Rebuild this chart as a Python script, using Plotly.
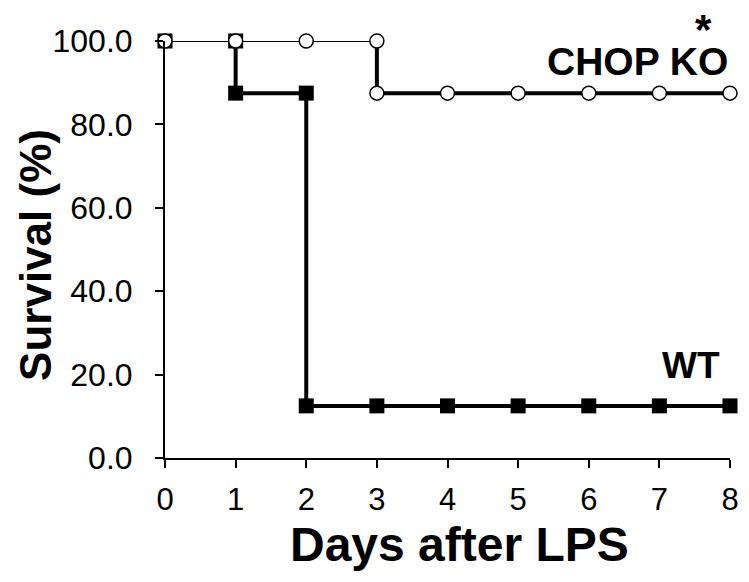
import plotly.graph_objects as go

days = [0, 1, 2, 3, 4, 5, 6, 7, 8]
wt_survival = [100, 87.5, 12.5, 12.5, 12.5, 12.5, 12.5, 12.5, 12.5]
ko_survival = [100, 100, 100, 87.5, 87.5, 87.5, 87.5, 87.5, 87.5]
y_ticks = [0, 20, 40, 60, 80, 100]
series_labels = ["WT", "CHOP KO"]


def step_points(x, y):
    xs, ys = [x[0]], [y[0]]
    for i in range(1, len(x)):
        xs.append(x[i]); ys.append(y[i - 1])
        if y[i] != y[i - 1]:
            xs.append(x[i]); ys.append(y[i])
    return xs, ys


def split_segments(xs, ys):
    thin_x, thin_y, thick_x, thick_y = [], [], [], []
    for i in range(len(xs) - 1):
        seg_x = [xs[i], xs[i + 1], None]
        seg_y = [ys[i], ys[i + 1], None]
        if ys[i] == 100 and ys[i + 1] == 100:
            thin_x += seg_x; thin_y += seg_y
        else:
            thick_x += seg_x; thick_y += seg_y
    return thin_x, thin_y, thick_x, thick_y


fig = go.Figure()
wx, wy = step_points(days, wt_survival)
kx, ky = step_points(days, ko_survival)

for xs, ys in [(wx, wy), (kx, ky)]:
    tx, ty, bx, by = split_segments(xs, ys)
    fig.add_trace(go.Scatter(x=tx, y=ty, mode="lines", line=dict(color="black", width=2),
                             cliponaxis=False, showlegend=False, hoverinfo="skip"))
    fig.add_trace(go.Scatter(x=bx, y=by, mode="lines", line=dict(color="black", width=4),
                             cliponaxis=False, showlegend=False, hoverinfo="skip"))

fig.add_trace(go.Scatter(x=wx, y=wy, mode="markers", name=series_labels[0],
                         marker=dict(symbol="square", size=15, color="black",
                                     line=dict(color="black", width=0)),
                         cliponaxis=False, showlegend=False))
fig.add_trace(go.Scatter(x=kx, y=ky, mode="markers", name=series_labels[1],
                         marker=dict(symbol="circle", size=14, color="white",
                                     line=dict(color="black", width=1.5)),
                         cliponaxis=False, showlegend=False))

font = "Liberation Sans, Arial, sans-serif"
fig.add_annotation(x=8, y=87.5, xref="x", yref="y", text="<b>CHOP KO</b>", showarrow=False,
                   xanchor="right", yanchor="middle", xshift=0, yshift=32,
                   font=dict(family=font, size=39, color="black"))
fig.add_annotation(x=8, y=12.5, xref="x", yref="y", text="<b>WT</b>", showarrow=False,
                   xanchor="right", yanchor="middle", xshift=-8, yshift=40,
                   font=dict(family=font, size=37, color="black"))
fig.add_annotation(x=7.62, y=100, xref="x", yref="y", text="<b>*</b>", showarrow=False,
                   xanchor="center", yanchor="middle", yshift=12,
                   font=dict(family=font, size=42, color="black"))
fig.add_annotation(x=0.521, y=0, xref="paper", yref="paper", text="<b>Days after LPS</b>",
                   showarrow=False, xanchor="center", yanchor="middle", yshift=-86,
                   font=dict(family=font, size=48, color="black"))
fig.add_annotation(x=0, y=0.487, xref="paper", yref="paper", text="<b>Survival (%)</b>",
                   showarrow=False, xanchor="center", yanchor="middle", xshift=-129,
                   textangle=-90, font=dict(family=font, size=44, color="black"))

# page body adds an 8px offset; figure size/margins compensate for it
fig.update_layout(
    width=741, height=574,
    margin=dict(l=157, r=19, t=33, b=124),
    paper_bgcolor="white", plot_bgcolor="white",
    font=dict(family=font, color="black"),
)
fig.update_xaxes(range=[0, 8], tickvals=days, ticktext=[str(d) for d in days],
                 automargin=False,
                 showgrid=False, zeroline=False, showline=True, linecolor="black", linewidth=2,
                 ticks="outside", ticklen=8, tickwidth=2, tickcolor="black",
                 ticklabelstandoff=5,
                 tickfont=dict(family=font, size=31))
fig.update_yaxes(range=[0, 100], tickvals=y_ticks, tickformat=".1f",
                 automargin=False,
                 showgrid=False, zeroline=False, showline=True, linecolor="black", linewidth=2,
                 ticks="outside", ticklen=8, tickwidth=2, tickcolor="black",
                 ticklabelstandoff=16,
                 tickfont=dict(family=font, size=32))

fig.write_html("out.html")
